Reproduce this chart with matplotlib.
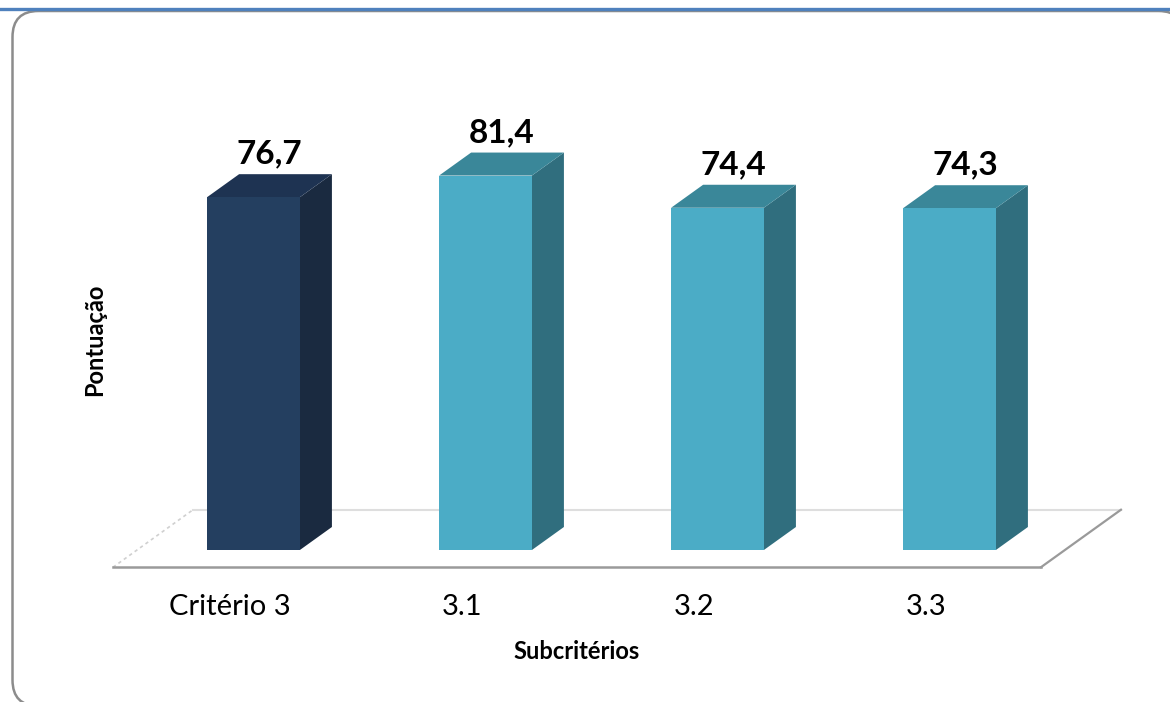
import matplotlib
matplotlib.use('Agg')
from matplotlib import pyplot as plt
from matplotlib.patches import Polygon, FancyBboxPatch

plt.rcParams['font.family'] = ['Lato', 'DejaVu Sans']

categorias = ['Critério 3', '3.1', '3.2', '3.3']
pontuacao = [76.7, 81.4, 74.4, 74.3]

cor_frente = ['#243f60', '#4bacc6', '#4bacc6', '#4bacc6']
cor_lado = ['#1a2a40', '#306e7e', '#306e7e', '#306e7e']
cor_topo = ['#1e3352', '#3a8799', '#3a8799', '#3a8799']

largura = 0.40
prof_x, prof_y = 0.138, 5.0   # profundidade da barra (efeito 3D)


def barra_3d(ax, x, v, i):
    x0, x1 = x - largura / 2, x + largura / 2
    frente = [(x0, 0), (x1, 0), (x1, v), (x0, v)]
    lado = [(x1, 0), (x1 + prof_x, prof_y), (x1 + prof_x, v + prof_y), (x1, v)]
    topo = [(x0, v), (x1, v), (x1 + prof_x, v + prof_y), (x0 + prof_x, v + prof_y)]
    ax.add_patch(Polygon(lado, closed=True, fc=cor_lado[i], ec='none', zorder=3))
    ax.add_patch(Polygon(topo, closed=True, fc=cor_topo[i], ec='none', zorder=3))
    ax.add_patch(Polygon(frente, closed=True, fc=cor_frente[i], ec='none', zorder=4))


fig = plt.figure(figsize=(11.7, 7.02), dpi=100)

# fundo com moldura arredondada e faixa azul no topo
fundo = fig.add_axes([0, 0, 1, 1])
fundo.set_xlim(0, 1170)
fundo.set_ylim(702, 0)
fundo.axis('off')
fundo.add_patch(FancyBboxPatch((12.5, 11), 1172, 695,
                               boxstyle='round,pad=0,rounding_size=26',
                               fc='white', ec='#8c8c8c', lw=1.8))
fundo.axhline(8.5, color='#4f81bd', lw=2.4)

ax = fig.add_axes([0.08778, 0.16738, 0.88239, 0.70442])
ax.set_xlim(-0.65, 3.8)
ax.set_ylim(-7.5, 100)
ax.patch.set_alpha(0)
for s in ax.spines.values():
    s.set_visible(False)

# piso em perspectiva
fl, fr, fy = -0.6056, 3.394, -3.75
dx, dy = prof_x / 0.4, prof_y / 0.4
ax.plot([fl + dx, fr + dx], [fy + dy, fy + dy], color='#dedede', lw=1.5, zorder=1)
ax.plot([fl, fl + dx], [fy, fy + dy], color='#d0d0d0', lw=1.2, ls=(0, (2, 2)), zorder=1)
ax.plot([fr, fr + dx], [fy, fy + dy], color='#9a9a9a', lw=1.6, zorder=1)
ax.plot([fl, fr], [fy, fy], color='#9a9a9a', lw=1.8, zorder=1)

for i, v in enumerate(pontuacao):
    barra_3d(ax, i, v, i)
    ax.annotate(f'{v:.1f}'.replace('.', ','), (i + prof_x / 2, v + prof_y),
                xytext=(0, 4), textcoords='offset points',
                ha='center', va='bottom', fontsize=24, fontweight='bold', color='black')

ax.set_xticks([i - 0.103 for i in range(len(categorias))])
ax.set_xticklabels(categorias, fontsize=21, color='black')
ax.tick_params(axis='x', length=0, pad=7)
ax.set_yticks([])

ax.set_xlabel('Subcritérios', fontsize=17, fontweight='bold', va='center')
ax.xaxis.set_label_coords(0.459, -0.1365)
ax.set_ylabel('Pontuação', fontsize=17, fontweight='bold', va='center', ha='center')
ax.yaxis.set_label_coords(-0.0075, 0.4944)

fig.savefig('out.png', dpi=100)
